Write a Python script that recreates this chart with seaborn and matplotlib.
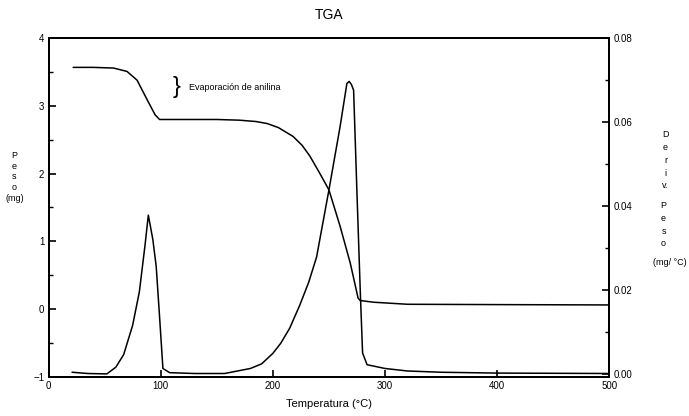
import numpy as np
import pandas as pd
import seaborn as sns
import matplotlib.pyplot as plt
from matplotlib.ticker import MultipleLocator, FormatStrFormatter

# weight curve (left axis, mg)
temp_peso = [22, 40, 58, 70, 79, 88, 95, 99, 120, 150, 170, 185, 195, 205, 218,
             226, 233, 242, 250, 260, 269, 276, 278, 290, 320, 400, 500]
peso = [3.57, 3.57, 3.56, 3.51, 3.38, 3.09, 2.87, 2.80, 2.80, 2.80, 2.79, 2.77, 2.74,
        2.68, 2.55, 2.42, 2.26, 2.00, 1.76, 1.22, 0.68, 0.16, 0.125, 0.10, 0.07, 0.065, 0.06]

# derivative curve (right axis, mg/ºC)
temp_deriv = [21, 35, 52, 60, 67, 75, 81, 86, 89, 93, 96, 99, 102, 108, 130, 157,
              180, 190, 200, 207, 215, 224, 232, 239, 250, 260, 266, 268, 270, 272,
              275, 278, 280, 284, 300, 320, 350, 400, 500]
deriv = [0.0003, 0.0000, -0.0001, 0.0015, 0.0045, 0.0115, 0.0195, 0.0305, 0.0378, 0.032,
         0.0256, 0.0136, 0.0012, 0.0002, 0.0000, 0.0000, 0.0012, 0.0023, 0.0048,
         0.0072, 0.0108, 0.0163, 0.0218, 0.0278, 0.0438, 0.059, 0.0692, 0.0697, 0.069,
         0.0676, 0.043, 0.0192, 0.0049, 0.0021, 0.0012, 0.0006, 0.0003, 0.0001, 0.0]

left_ticks = [-1, 0, 1, 2, 3, 4]
right_ticks = [0.00, 0.02, 0.04, 0.06, 0.08]
x_ticks = [0, 100, 200, 300, 400, 500]

df_peso = pd.DataFrame({"T": temp_peso, "peso": peso})
df_deriv = pd.DataFrame({"T": temp_deriv, "deriv": deriv})

sns.set_style("ticks")
plt.rcParams["font.family"] = ["Liberation Sans", "DejaVu Sans"]
plt.rcParams["text.color"] = "black"
plt.rcParams["axes.labelcolor"] = "black"
plt.rcParams["xtick.color"] = "black"
plt.rcParams["ytick.color"] = "black"

fig = plt.figure(figsize=(6.89, 4.16), dpi=100)
ax = fig.add_axes([0.0704, 0.0945, 0.814, 0.8135])
ax2 = ax.twinx()

sns.lineplot(data=df_peso, x="T", y="peso", ax=ax, color="black", linewidth=1.1, sort=False)
sns.lineplot(data=df_deriv, x="T", y="deriv", ax=ax2, color="black", linewidth=1.1, sort=False)

ax.set_xlim(0, 500)
ax.set_ylim(-1, 4)
ax2.set_ylim(-0.00076, 0.08)

ax.set_xticks(x_ticks)
ax.set_yticks(left_ticks)
ax2.set_yticks(right_ticks)
ax2.yaxis.set_major_formatter(FormatStrFormatter("%.2f"))
ax.yaxis.set_minor_locator(MultipleLocator(0.5))
ax2.yaxis.set_minor_locator(MultipleLocator(0.01))

for a in (ax, ax2):
    a.tick_params(which="major", direction="in", length=5, width=1.2, labelsize=7, pad=3,
                  colors="black")
    a.tick_params(which="minor", direction="in", length=3, width=1.0, colors="black")
    for s in a.spines.values():
        s.set_linewidth(1.4)
        s.set_color("black")
    a.set_xlabel("")
    a.set_ylabel("")

ax.set_xlabel("Temperatura (°C)", fontsize=8, labelpad=6, color="black")
ax.set_title("TGA", fontsize=10, pad=14, color="black")

fig.text(0.021, 0.575, "P\ne\ns\no\n(mg)", fontsize=6.5, ha="center", va="center",
         linespacing=1.25)
fig.text(0.966, 0.615, "D\ne\nr\ni\nv.", fontsize=6.5, ha="center", va="center",
         linespacing=1.55)
fig.text(0.963, 0.46, "P\ne\ns\no", fontsize=6.5, ha="center", va="center",
         linespacing=1.55)
fig.text(0.972, 0.368, "(mg/ °C)", fontsize=6.5, ha="center", va="center")

ax.text(114, 3.28, "}", fontsize=17, ha="center", va="center", fontweight="light")
ax.text(125, 3.27, "Evaporación de anilina", fontsize=6.5, ha="left", va="center")

fig.savefig("out.png", dpi=100)
